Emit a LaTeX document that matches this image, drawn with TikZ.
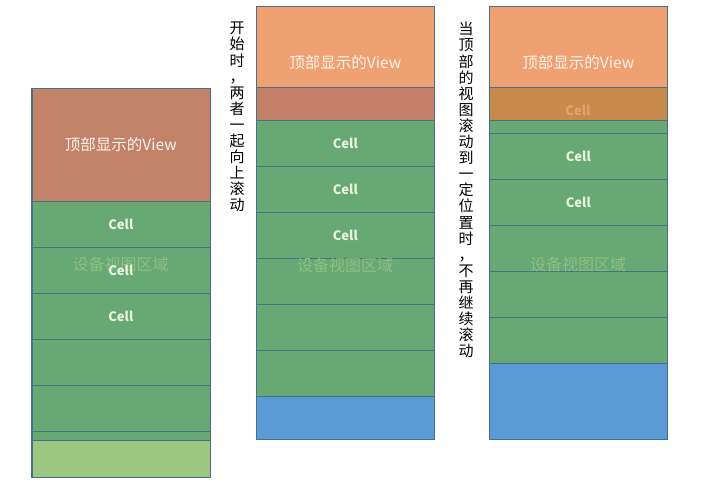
\documentclass[tikz,border=0pt]{standalone}
\usepackage{fontspec}
\newfontfamily\cjk{Noto Sans CJK SC}
\usepackage{tikz}
\usetikzlibrary{positioning}
\definecolor{edge}{HTML}{4A6F8A}
\definecolor{topbrown}{HTML}{C3826A}
\definecolor{toporange}{HTML}{F0A171}
\definecolor{overbrown}{HTML}{C28168}
\definecolor{overorange}{HTML}{C88A4B}
\definecolor{cellgreen}{HTML}{68A874}
\definecolor{lightgreen}{HTML}{9CC783}
\definecolor{bottomblue}{HTML}{5B9BD5}
\definecolor{devtxt}{HTML}{8DC080}
\definecolor{celltxt}{HTML}{E8F3E0}
\definecolor{fadetxt}{HTML}{DDA56E}
\definecolor{toptxt}{HTML}{FDF3EC}

\begin{document}
\begin{tikzpicture}[
  x=1pt, y=-1pt,
  blockbox/.style={draw=edge, line width=0.6pt, inner sep=0pt, minimum width=178pt, anchor=north west},
  cellbox/.style={blockbox, fill=cellgreen, minimum height=46pt},
  celltext/.style={text=celltxt, font=\cjk\bfseries\fontsize{13}{13}\selectfont},
  toptext/.style={text=toptxt, font=\cjk\fontsize{15.5}{16}\selectfont},
  devtext/.style={text=devtxt, font=\cjk\fontsize{16}{16}\selectfont},
  vtext/.style={text=black, font=\cjk\fontsize{15}{16.1}\selectfont, align=center, anchor=north, inner sep=0pt}
]
\useasboundingbox (0,0) rectangle (706,485);

% left: initial state
\node[blockbox, fill=lightgreen, minimum height=389pt] (dev1) at (31.5,88) {};
\node[blockbox, fill=topbrown, minimum height=113pt] (top1) at (31.5,88) {};
\node[cellbox] (c11) at (31.5,201) {};
\node[cellbox] (c12) at (31.5,247) {};
\node[cellbox] (c13) at (31.5,293) {};
\node[cellbox] (c14) at (31.5,339) {};
\node[cellbox] (c15) at (31.5,385) {};
\node[cellbox, minimum height=9pt] (c16) at (31.5,431) {};
\draw[edge, line width=0.6pt] (dev1.north west) rectangle (dev1.south east);
\node[toptext] (t1) at (top1.center) {顶部显示的View};
\node[devtext] (d1) at (120.5,264) {设备视图区域};
\node[celltext] (l11) at (c11.center) {Cell};
\node[celltext] (l12) at (c12.center) {Cell};
\node[celltext] (l13) at (c13.center) {Cell};

% middle: both scroll up
\node[vtext] (v1) at (237,22) {开\\始\\时\\，\\两\\者\\一\\起\\向\\上\\滚\\动};
\node[blockbox, fill=toporange, minimum height=114pt] (top2) at (256,6) {};
\node[blockbox, fill=overbrown, minimum height=33pt] (ov2) at (256,87) {};
\node[cellbox] (c21) at (256,120) {};
\node[cellbox] (c22) at (256,166) {};
\node[cellbox] (c23) at (256,212) {};
\node[cellbox] (c24) at (256,258) {};
\node[cellbox] (c25) at (256,304) {};
\node[cellbox] (c26) at (256,350) {};
\node[blockbox, fill=bottomblue, minimum height=43pt] (bot2) at (256,396) {};
\node[toptext] (t2) at ([yshift=1pt]top2.center) {顶部显示的View};
\node[devtext] (d2) at (345,265) {设备视图区域};
\node[celltext] (l21) at (c21.center) {Cell};
\node[celltext] (l22) at (c22.center) {Cell};
\node[celltext] (l23) at (c23.center) {Cell};

% right: top view stops
\node[vtext] (v2) at (466,22) {当\\顶\\部\\的\\视\\图\\滚\\动\\到\\一\\定\\位\\置\\时\\，\\不\\再\\继\\续\\滚\\动};
\node[blockbox, fill=toporange, minimum height=114pt] (top3) at (489,6) {};
\node[blockbox, fill=overorange, minimum height=33pt] (ov3) at (489,87) {};
\node[blockbox, fill=cellgreen, minimum height=13pt] (c30) at (489,120) {};
\node[cellbox] (c31) at (489,133) {};
\node[cellbox] (c32) at (489,179) {};
\node[cellbox] (c33) at (489,225) {};
\node[cellbox] (c34) at (489,271) {};
\node[cellbox] (c35) at (489,317) {};
\node[blockbox, fill=bottomblue, minimum height=76pt] (bot3) at (489,363) {};
\node[toptext] (t3) at ([yshift=1pt]top3.center) {顶部显示的View};
\node[celltext, text=fadetxt] (l30) at (578,110) {Cell};
\node[devtext] (d3) at (578,264) {设备视图区域};
\node[celltext] (l31) at (c31.center) {Cell};
\node[celltext] (l32) at (c32.center) {Cell};
\end{tikzpicture}
\end{document}
